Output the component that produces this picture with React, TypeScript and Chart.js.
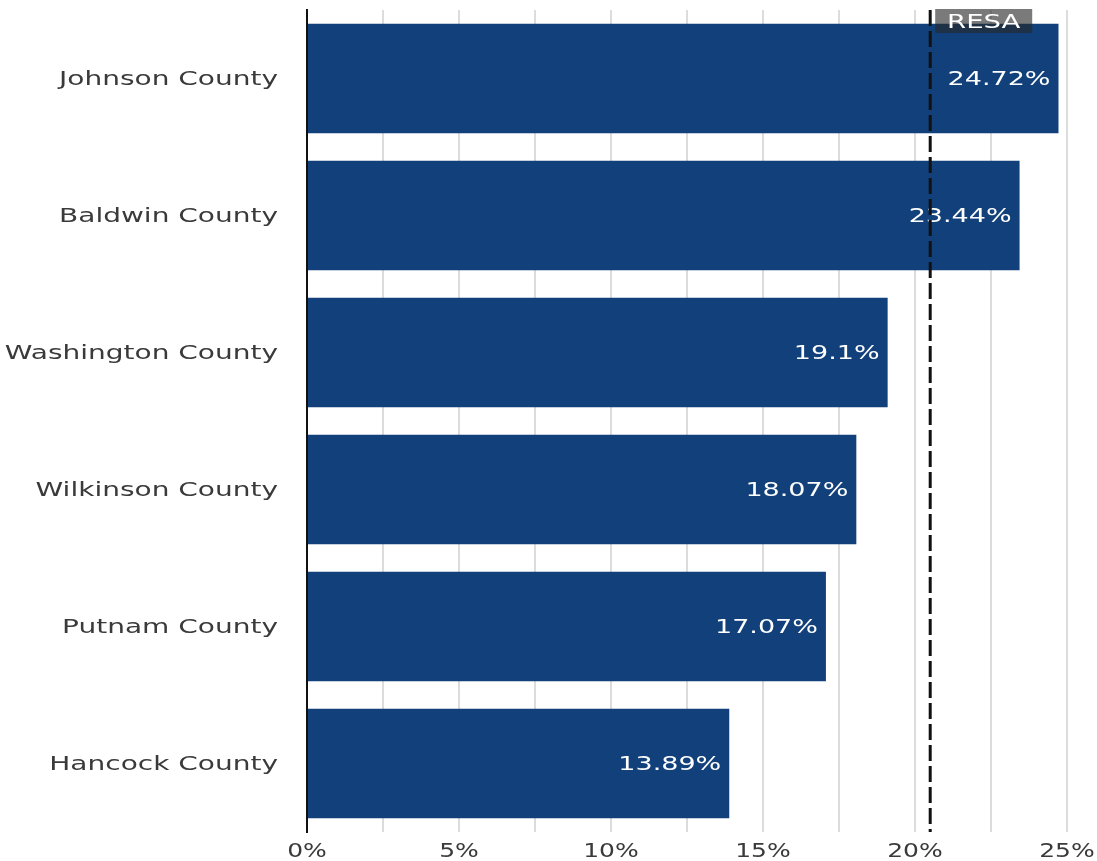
import React, { useEffect, useRef } from 'react';
import { Chart, registerables } from 'chart.js';

Chart.register(...registerables);

const counties = [
  'Johnson County',
  'Baldwin County',
  'Washington County',
  'Wilkinson County',
  'Putnam County',
  'Hancock County',
];
const rates = [24.72, 23.44, 19.1, 18.07, 17.07, 13.89];
const xTickValues = [0, 5, 10, 15, 20, 25];
const resaValue = 20.5;
const resaLabel = 'RESA';

const FONT = '"DejaVu Sans", sans-serif';

function stretchedText(
  ctx: CanvasRenderingContext2D,
  text: string,
  x: number,
  y: number,
  align: CanvasTextAlign,
  size: number,
  color: string,
  sx: number
) {
  ctx.save();
  ctx.translate(x, y);
  ctx.scale(sx, 1);
  ctx.font = `${size}px ${FONT}`;
  ctx.fillStyle = color;
  ctx.textAlign = align;
  ctx.textBaseline = 'middle';
  ctx.fillText(text, 0, 0);
  ctx.restore();
}

const overlayPlugin = {
  id: 'overlay',
  afterDatasetsDraw(chart: any) {
    const ctx: CanvasRenderingContext2D = chart.ctx;
    const area = chart.chartArea;
    const xs = chart.scales.x;
    const ys = chart.scales.y;
    const meta = chart.getDatasetMeta(0);

    // value labels inside bars
    meta.data.forEach((bar: any, i: number) => {
      stretchedText(ctx, `${rates[i]}%`, bar.x - 8, bar.y + 1, 'right', 20, '#ffffff', 1.35);
    });

    // RESA dashed reference line
    const rx = xs.getPixelForValue(resaValue);
    ctx.save();
    ctx.strokeStyle = '#111111';
    ctx.lineWidth = 3;
    ctx.setLineDash([16, 5]);
    ctx.beginPath();
    ctx.moveTo(rx, area.top);
    ctx.lineTo(rx, area.bottom);
    ctx.stroke();
    ctx.restore();

    // RESA label box
    ctx.save();
    ctx.fillStyle = 'rgba(40,40,40,0.62)';
    ctx.fillRect(rx + 5, area.top - 1, 97, 24);
    ctx.restore();
    stretchedText(ctx, resaLabel, rx + 5 + 48.5, area.top + 13, 'center', 19, '#ffffff', 1.45);

    // y category labels
    counties.forEach((c, i) => {
      const y = ys.getPixelForValue(i);
      stretchedText(ctx, c, area.left - 29, y + 1, 'right', 20, '#3a3a3a', 1.4);
    });

    // x tick labels
    xTickValues.forEach((v) => {
      const x = xs.getPixelForValue(v);
      stretchedText(ctx, `${v}%`, x, area.bottom + 20, 'center', 20, '#3a3a3a', 1.25);
    });
  },
};

export default function App() {
  const canvasRef = useRef<HTMLCanvasElement | null>(null);

  useEffect(() => {
    if (!canvasRef.current) return;
    const chart = new Chart(canvasRef.current, {
      type: 'bar',
      data: {
        labels: counties,
        datasets: [
          {
            data: rates,
            backgroundColor: '#11407a',
            borderWidth: 0,
            categoryPercentage: 0.8,
            barPercentage: 1.0,
          },
        ],
      },
      options: {
        indexAxis: 'y',
        animation: false,
        responsive: false,
        devicePixelRatio: 1,
        layout: { padding: { left: 0, top: 10, right: 30, bottom: 0 } },
        plugins: {
          legend: { display: false },
          tooltip: { enabled: false },
        },
        scales: {
          x: {
            min: 0,
            max: 25,
            ticks: { stepSize: 2.5, color: 'transparent', font: { size: 4 } },
            grid: {
              color: (c: any) => (c.tick && c.tick.value === 0 ? 'transparent' : '#dcdcdc'),
              lineWidth: 2,
              drawTicks: false,
            },
            border: { display: false },
            afterFit: (scale: any) => {
              scale.height = 29;
            },
          },
          y: {
            ticks: { color: 'transparent', font: { size: 4 } },
            grid: { display: false, drawTicks: false },
            border: { display: true, color: '#111111', width: 2 },
            afterFit: (scale: any) => {
              scale.width = 307;
            },
          },
        },
      },
      plugins: [overlayPlugin],
    });
    return () => chart.destroy();
  }, []);

  return (
    <div style={{ position: 'absolute', left: 0, top: 0, width: 1097, height: 861, background: '#ffffff' }}>
      <canvas ref={canvasRef} width={1097} height={861} style={{ width: 1097, height: 861 }} />
    </div>
  );
}
